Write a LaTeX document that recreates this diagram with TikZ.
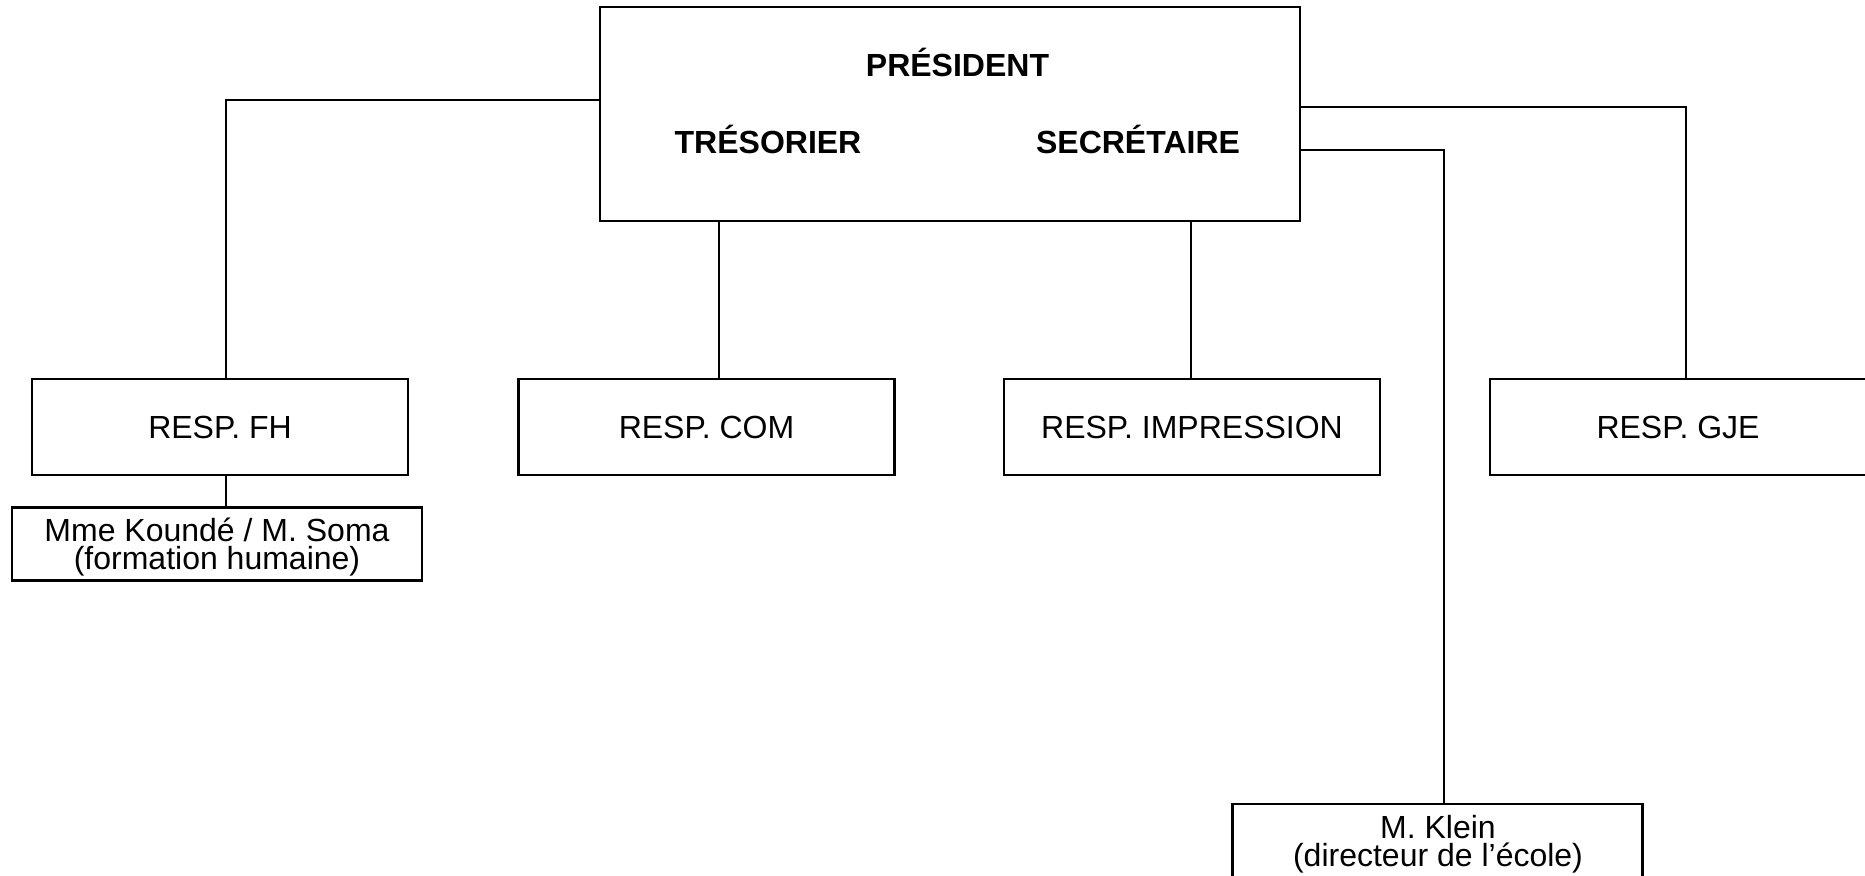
\documentclass[tikz,border=0pt]{standalone}
\usepackage{fontspec}
\setmainfont{Liberation Sans}
\begin{document}
\begin{tikzpicture}[x=1pt,y=-1pt,
  line width=2.5pt, line join=miter,
  box/.style={draw, rectangle, inner sep=0pt, outer sep=0pt},
  respbox/.style={box, minimum width=376pt, minimum height=96pt,
    font=\fontsize{32}{28}\selectfont, text height=22.9pt, text depth=0pt},
  personbox/.style={box, minimum width=410pt, minimum height=73pt},
  lbl/.style={inner sep=0pt, outer sep=0pt, anchor=base, font=\fontsize{32}{28}\selectfont},
  blbl/.style={lbl, font=\fontsize{32}{28}\selectfont\bfseries},
  conn/.style={draw, line width=2.5pt}
]
\useasboundingbox (0,0) rectangle (1865,875);
% top box
\node[box, minimum width=700pt, minimum height=214pt] (bureau) at (950,114) {};
\node[blbl] (pres) at (957.5,76.5) {PRÉSIDENT};
\node[blbl] (tres) at (768,153.5) {TRÉSORIER};
\node[blbl] (secr) at (1138,153.5) {SECRÉTAIRE};
% responsables
\node[respbox] (fh) at (220,427) {RESP. FH};
\node[respbox] (com) at (706.5,427) {RESP. COM};
\node[respbox] (imp) at (1192,427) {RESP. IMPRESSION};
\node[respbox] (gje) at (1678,427) {RESP. GJE};
% persons
\node[personbox] (koun) at (217,544) {};
\node[lbl] (kounA) at (217,541.5) {Mme Koundé / M. Soma};
\node[lbl] (kounB) at (217,569.5) {(formation humaine)};
\node[personbox] (klein) at (1437.5,840.5) {};
\node[lbl] (kleinA) at (1438,838) {M. Klein};
\node[lbl] (kleinB) at (1438,866) {(directeur de l’école)};
% connectors
\draw[conn] ([yshift=-93pt]bureau.north west) -| ([xshift=6pt]fh.north);
\draw[conn] ([xshift=6pt]fh.south) -- ([xshift=6pt]fh.south |- koun.north);
\draw[conn] ([xshift=12.5pt]com.north) -- ([xshift=12.5pt]com.north |- bureau.south);
\draw[conn] ([xshift=-1pt]imp.north) -- ([xshift=-1pt]imp.north |- bureau.south);
\draw[conn] ([yshift=-100pt]bureau.north east) -| ([xshift=8pt]gje.north);
\draw[conn] ([yshift=-143pt]bureau.north east) -| ([xshift=6.5pt]klein.north);
\end{tikzpicture}
\end{document}
